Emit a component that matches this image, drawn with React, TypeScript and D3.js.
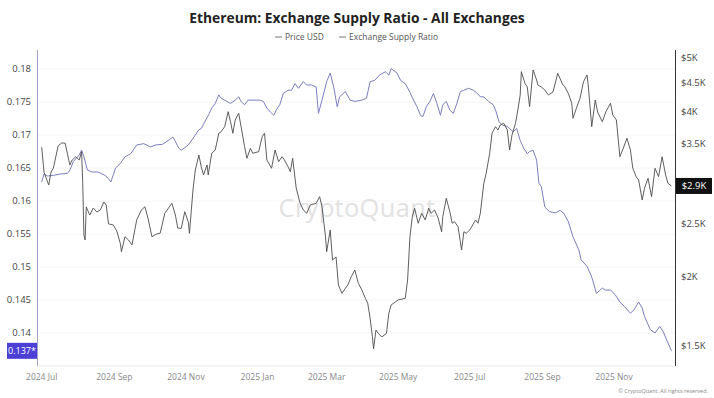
import React from 'react';
import * as d3 from 'd3';

const W = 714;
const H = 398;
const PLOT = { left: 37, right: 675, top: 50, bottom: 366 };

const xDomain = ['2024-06-27', '2025-12-23'];
const ratioDomain = [0.135, 0.1829];
const priceDomain = [1378, 5170];

const priceDates = [
  '2024-07-01','2024-07-03','2024-07-07','2024-07-09','2024-07-11','2024-07-15','2024-07-18','2024-07-21','2024-07-25','2024-07-27',
  '2024-07-30','2024-08-02','2024-08-04','2024-08-05','2024-08-06','2024-08-07','2024-08-08','2024-08-11','2024-08-14','2024-08-17',
  '2024-08-20','2024-08-23','2024-08-25','2024-08-27','2024-08-31','2024-09-03','2024-09-06','2024-09-07','2024-09-10','2024-09-13',
  '2024-09-16','2024-09-20','2024-09-24','2024-09-27','2024-09-30','2024-10-03','2024-10-07','2024-10-10','2024-10-14','2024-10-20',
  '2024-10-23','2024-10-25','2024-10-28','2024-10-31','2024-11-03','2024-11-04','2024-11-07','2024-11-09','2024-11-12','2024-11-14',
  '2024-11-16','2024-11-19','2024-11-20','2024-11-23','2024-11-26','2024-11-29','2024-12-01','2024-12-04','2024-12-07','2024-12-09',
  '2024-12-11','2024-12-13','2024-12-16','2024-12-18','2024-12-21','2024-12-23','2024-12-26','2024-12-28','2025-01-02','2025-01-05',
  '2025-01-07','2025-01-09','2025-01-13','2025-01-16','2025-01-19','2025-01-22','2025-01-24','2025-01-27','2025-01-29','2025-01-31',
  '2025-02-03','2025-02-06','2025-02-09','2025-02-12','2025-02-15','2025-02-20','2025-02-23','2025-02-25','2025-02-28','2025-03-01',
  '2025-03-04','2025-03-06','2025-03-09','2025-03-11','2025-03-14','2025-03-17','2025-03-19','2025-03-22','2025-03-25','2025-03-28',
  '2025-03-31','2025-04-03','2025-04-05','2025-04-07','2025-04-09','2025-04-10','2025-04-12','2025-04-14','2025-04-17','2025-04-21',
  '2025-04-23','2025-04-25','2025-05-01','2025-05-07','2025-05-09','2025-05-11','2025-05-13','2025-05-15','2025-05-18','2025-05-21',
  '2025-05-24','2025-05-27','2025-05-29','2025-06-01','2025-06-04','2025-06-07','2025-06-08','2025-06-11','2025-06-14','2025-06-16',
  '2025-06-18','2025-06-21','2025-06-24','2025-06-26','2025-06-28','2025-07-01','2025-07-06','2025-07-08','2025-07-10','2025-07-13',
  '2025-07-15','2025-07-18','2025-07-20','2025-07-23','2025-07-25','2025-07-27','2025-07-30','2025-08-02','2025-08-04','2025-08-06',
  '2025-08-09','2025-08-11','2025-08-13','2025-08-14','2025-08-17','2025-08-19','2025-08-21','2025-08-24','2025-08-27','2025-08-28',
  '2025-08-31','2025-09-03','2025-09-06','2025-09-10','2025-09-14','2025-09-18','2025-09-20','2025-09-23','2025-09-26','2025-09-27',
  '2025-09-30','2025-10-03','2025-10-06','2025-10-09','2025-10-10','2025-10-13','2025-10-16','2025-10-18','2025-10-22','2025-10-25',
  '2025-10-29','2025-10-31','2025-11-03','2025-11-06','2025-11-09','2025-11-12','2025-11-15','2025-11-17','2025-11-20','2025-11-22',
  '2025-11-25','2025-11-27','2025-11-30','2025-12-03','2025-12-06','2025-12-09','2025-12-12','2025-12-15','2025-12-17','2025-12-20',
];
const priceValues = [
  3441, 3100, 2939, 3103, 3156, 3460, 3504, 3500, 3196, 3263,
  3308, 3263, 3378, 2960, 2384, 2335, 2681, 2592, 2669, 2625,
  2647, 2737, 2703, 2497, 2487, 2424, 2303, 2223, 2367, 2335,
  2287, 2539, 2647, 2684, 2539, 2367, 2394, 2401, 2611, 2722,
  2592, 2455, 2450, 2628, 2518, 2401, 2878, 3129, 3332, 3173,
  3065, 3196, 3065, 3356, 3402, 3649, 3673, 3751, 3994, 3830,
  3649, 3858, 3967, 3751, 3450, 3286, 3427, 3356, 3378, 3597,
  3649, 3263, 3152, 3402, 3240, 3308, 3263, 3173, 3107, 3286,
  2902, 2737, 2647, 2611, 2703, 2722, 2799, 2684, 2367, 2223,
  2435, 2147, 2175, 1934, 1868, 1908, 1934, 2003, 2059, 1948,
  1894, 1829, 1792, 1685, 1558, 1480, 1602, 1580, 1556, 1580,
  1718, 1779, 1817, 1829, 1975, 2367, 2574, 2666, 2504, 2611,
  2539, 2666, 2611, 2647, 2560, 2417, 2574, 2780, 2628, 2504,
  2521, 2468, 2239, 2417, 2401, 2435, 2539, 2504, 2611, 2960,
  3086, 3356, 3649, 3751, 3700, 3778, 3805, 3700, 3402, 3623,
  3805, 4022, 4283, 4722, 4498, 4434, 4078, 4755, 4560, 4467,
  4429, 4373, 4283, 4337, 4690, 4485, 4434, 4313, 4137, 3885,
  4056, 4224, 4528, 4657, 4467, 3751, 4194, 3989, 3830, 3989,
  4137, 3939, 3858, 3308, 3431, 3574, 3402, 3152, 3039, 3001,
  2760, 2899, 3023, 2799, 3152, 3043, 3308, 3065, 2960, 2927,
];

const ratioDates = [
  '2024-07-01','2024-07-03','2024-07-06','2024-07-11','2024-07-17','2024-07-23','2024-07-25','2024-07-28','2024-08-02','2024-08-04',
  '2024-08-06','2024-08-09','2024-08-13','2024-08-18','2024-08-24','2024-08-27','2024-08-29','2024-09-02','2024-09-06','2024-09-10',
  '2024-09-15','2024-09-20','2024-09-26','2024-10-02','2024-10-06','2024-10-12','2024-10-17','2024-10-21','2024-10-26','2024-10-28',
  '2024-11-03','2024-11-09','2024-11-12','2024-11-14','2024-11-17','2024-11-21','2024-11-23','2024-11-26','2024-11-29','2024-12-01',
  '2024-12-05','2024-12-09','2024-12-13','2024-12-16','2024-12-18','2024-12-21','2024-12-24','2024-12-30','2025-01-03','2025-01-06',
  '2025-01-09','2025-01-12','2025-01-15','2025-01-17','2025-01-20','2025-01-23','2025-01-27','2025-01-30','2025-02-02','2025-02-05',
  '2025-02-09','2025-02-12','2025-02-16','2025-02-20','2025-02-22','2025-02-25','2025-03-01','2025-03-04','2025-03-07','2025-03-10',
  '2025-03-12','2025-03-17','2025-03-21','2025-03-25','2025-03-31','2025-04-04','2025-04-07','2025-04-11','2025-04-15','2025-04-20',
  '2025-04-23','2025-04-25','2025-04-30','2025-05-03','2025-05-07','2025-05-11','2025-05-14','2025-05-17','2025-05-20','2025-05-22',
  '2025-05-25','2025-05-28','2025-05-31','2025-06-03','2025-06-06','2025-06-08','2025-06-11','2025-06-14','2025-06-17','2025-06-20',
  '2025-06-23','2025-06-26','2025-06-30','2025-07-04','2025-07-07','2025-07-10','2025-07-13','2025-07-17','2025-07-21','2025-07-23',
  '2025-07-26','2025-07-29','2025-08-02','2025-08-04','2025-08-07','2025-08-10','2025-08-13','2025-08-16','2025-08-19','2025-08-21',
  '2025-08-24','2025-08-27','2025-08-29','2025-08-31','2025-09-03','2025-09-07','2025-09-12','2025-09-16','2025-09-19','2025-09-23',
  '2025-09-27','2025-10-02','2025-10-04','2025-10-09','2025-10-13','2025-10-17','2025-10-22','2025-10-25','2025-10-29','2025-11-02',
  '2025-11-06','2025-11-10','2025-11-15','2025-11-18','2025-11-22','2025-11-25','2025-11-27','2025-12-02','2025-12-06','2025-12-10',
  '2025-12-13','2025-12-16','2025-12-20',
];
const ratioValues = [
  0.1629, 0.1641, 0.1638, 0.1639, 0.1641, 0.1642, 0.1647, 0.1660, 0.1670, 0.1677,
  0.1667, 0.1647, 0.1644, 0.1644, 0.1639, 0.1634, 0.1629, 0.1650, 0.1657, 0.1667,
  0.1672, 0.1685, 0.1687, 0.1682, 0.1685, 0.1686, 0.1692, 0.1697, 0.1680, 0.1677,
  0.1685, 0.1700, 0.1708, 0.1710, 0.1720, 0.1733, 0.1741, 0.1748, 0.1761, 0.1756,
  0.1752, 0.1748, 0.1753, 0.1758, 0.1751, 0.1746, 0.1753, 0.1753, 0.1753, 0.1751,
  0.1741, 0.1735, 0.1730, 0.1738, 0.1746, 0.1763, 0.1768, 0.1768, 0.1778, 0.1771,
  0.1781, 0.1776, 0.1776, 0.1773, 0.1733, 0.1753, 0.1781, 0.1794, 0.1773, 0.1743,
  0.1758, 0.1766, 0.1753, 0.1751, 0.1753, 0.1756, 0.1781, 0.1783, 0.1791, 0.1796,
  0.1791, 0.1801, 0.1794, 0.1783, 0.1778, 0.1765, 0.1753, 0.1743, 0.1730, 0.1728,
  0.1743, 0.1751, 0.1763, 0.1748, 0.1730, 0.1746, 0.1751, 0.1738, 0.1733, 0.1748,
  0.1766, 0.1768, 0.1771, 0.1768, 0.1764, 0.1758, 0.1758, 0.1751, 0.1746, 0.1738,
  0.1720, 0.1715, 0.1713, 0.1710, 0.1705, 0.1710, 0.1692, 0.1680, 0.1672, 0.1675,
  0.1677, 0.1662, 0.1627, 0.1622, 0.1591, 0.1584, 0.1582, 0.1586, 0.1582, 0.1569,
  0.1546, 0.1526, 0.1511, 0.1501, 0.1485, 0.1460, 0.1468, 0.1465, 0.1465, 0.1458,
  0.1447, 0.1440, 0.1430, 0.1435, 0.1447, 0.1438, 0.1425, 0.1405, 0.1400, 0.1410,
  0.1402, 0.1389, 0.1373,
];

const ratioTicks = [0.14, 0.145, 0.15, 0.155, 0.16, 0.165, 0.17, 0.175, 0.18];
const priceTicks = [1500, 2000, 2500, 3500, 4000, 4500, 5000];
const xTicks = ['2024-07-01','2024-09-01','2024-11-01','2025-01-01','2025-03-01','2025-05-01','2025-07-01','2025-09-01','2025-11-01'];

const TITLE = 'Ethereum: Exchange Supply Ratio - All Exchanges';
const LEGEND = ['Price USD', 'Exchange Supply Ratio'];

const PRICE_COLOR = '#4d4d4d';
const RATIO_COLOR = '#7c7ebf';
const FONT = '"Open Sans", "Noto Sans", sans-serif';

const parse = d3.utcParse('%Y-%m-%d');

export default function App() {
  const x = d3.scaleUtc().domain(xDomain.map((d) => parse(d) as Date)).range([PLOT.left, PLOT.right]);
  const yL = d3.scaleLinear().domain(ratioDomain).range([PLOT.bottom, PLOT.top]);
  const yR = d3.scaleLog().domain(priceDomain).range([PLOT.bottom, PLOT.top]);

  const priceData = priceDates.map((d, i) => ({ date: parse(d) as Date, v: priceValues[i] }));
  const ratioData = ratioDates.map((d, i) => ({ date: parse(d) as Date, v: ratioValues[i] }));

  const priceLine = d3.line<{ date: Date; v: number }>().x((d) => x(d.date)).y((d) => yR(d.v));
  const ratioLine = d3.line<{ date: Date; v: number }>().x((d) => x(d.date)).y((d) => yL(d.v));

  const fmtX = d3.utcFormat('%Y %b');
  const fmtPrice = (v: number) => `$${d3.format('~g')(v / 1000)}K`;

  const lastRatio = ratioValues[ratioValues.length - 1];
  const lastPrice = priceValues[priceValues.length - 1];
  const yLast = yL(lastRatio);
  const yPLast = yR(lastPrice);

  return (
    <svg width={W} height={H} style={{ position: 'absolute', left: 0, top: 0, background: '#fff' }} fontFamily={FONT}>
      <rect x={0} y={0} width={W} height={H} fill="#fff" />
      {ratioTicks.map((t) => (
        <line key={'g' + t} x1={PLOT.left} x2={PLOT.right} y1={yL(t)} y2={yL(t)} stroke="#f5f5f5" strokeWidth={1} />
      ))}
      <text x={357} y={217} textAnchor="middle" fontSize={25.5} fill="#e2e2e2" fontFamily={FONT} letterSpacing={0.3}>CryptoQuant</text>
      <text x={357} y={23} textAnchor="middle" fontSize={13.8} fontWeight={700} fill="#222">{TITLE}</text>
      <g fontSize={8.5} fill="#555">
        <line x1={275} x2={282} y1={37} y2={37} stroke="#777" strokeWidth={1} />
        <text x={285} y={40}>{LEGEND[0]}</text>
        <line x1={339} x2={346} y1={37} y2={37} stroke="#777" strokeWidth={1} />
        <text x={349} y={40}>{LEGEND[1]}</text>
      </g>
      <line x1={PLOT.left} x2={PLOT.right} y1={PLOT.bottom} y2={PLOT.bottom} stroke="#ececec" />
      <line x1={PLOT.left + 0.5} x2={PLOT.left + 0.5} y1={PLOT.top} y2={PLOT.bottom} stroke="#a0a0cc" />
      <line x1={PLOT.right + 0.5} x2={PLOT.right + 0.5} y1={PLOT.top} y2={PLOT.bottom} stroke="#333" />
      <path d={ratioLine(ratioData) || ''} fill="none" stroke={RATIO_COLOR} strokeWidth={1} strokeLinejoin="round" />
      <path d={priceLine(priceData) || ''} fill="none" stroke={PRICE_COLOR} strokeWidth={0.9} strokeLinejoin="round" />
      <g fontSize={9.5} fill="#444" textAnchor="end">
        {ratioTicks.map((t) => (
          <text key={'l' + t} x={31} y={yL(t) + 3.3}>{d3.format('~g')(t)}</text>
        ))}
      </g>
      <g fontSize={9.5} fill="#444" textAnchor="start">
        {priceTicks.map((t) => (
          <text key={'r' + t} x={681} y={yR(t) + 3.3}>{fmtPrice(t)}</text>
        ))}
      </g>
      <g fontSize={8.5} fill="#888" textAnchor="middle">
        {xTicks.map((t) => (
          <text key={'x' + t} x={x(parse(t) as Date)} y={380}>{fmtX(parse(t) as Date)}</text>
        ))}
      </g>
      <rect x={7} y={yLast - 8} width={30} height={16} fill="#4b3fd6" />
      <text x={22} y={yLast + 3.2} textAnchor="middle" fontSize={9} fill="#fff">{lastRatio.toFixed(3)}*</text>
      <rect x={676} y={yPLast - 8} width={36} height={16} fill="#111" />
      <text x={694} y={yPLast + 3.2} textAnchor="middle" fontSize={9.5} fill="#fff">{`$${(lastPrice / 1000).toFixed(1)}K`}</text>
      <text x={708} y={393} textAnchor="end" fontSize={5.5} fill="#888">© CryptoQuant. All rights reserved.</text>
    </svg>
  );
}
